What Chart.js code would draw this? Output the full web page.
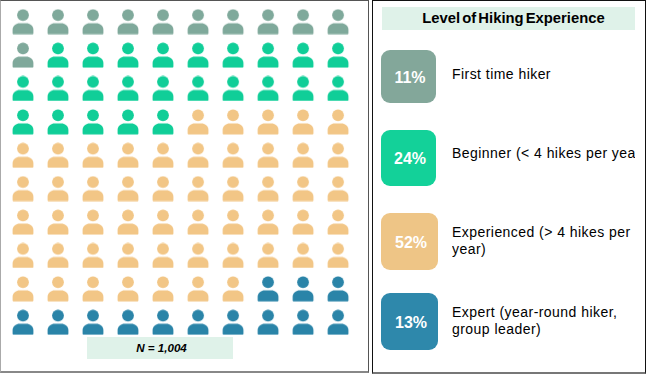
<!DOCTYPE html>
<html>
<head>
<meta charset="utf-8">
<script src="https://cdn.jsdelivr.net/npm/chart.js@4"></script>
<style>
  html, body { margin: 0; padding: 0; background: #fff; }
  body { width: 648px; height: 376px; position: relative; overflow: hidden; font-family: "Liberation Sans", Arial, sans-serif; color: #000; }
  #panelIconos { position: absolute; left: 0; top: 0; width: 367px; height: 370px; border: 1px solid #555; border-bottom: 2px solid #888; border-left-color: #aaa; }
  #chartIconos { position: absolute; left: 0; top: 0; }
  #etiquetaN { position: absolute; left: 87px; top: 337px; width: 146px; height: 22px; line-height: 21px; background: #dff2e9; text-align: center; font-size: 11.6px; font-weight: bold; font-style: italic; padding-left: 3px; box-sizing: border-box; }
  #panelLeyenda { position: absolute; left: 372px; top: 0; width: 272px; height: 371px; border: 1px solid #111; border-bottom: 2px solid #777; }
  #tituloLeyenda { position: absolute; left: 382px; top: 7px; width: 253px; height: 23px; line-height: 23px; background: #dff2e9; text-align: center; font-size: 14.8px; font-weight: bold; word-spacing: -2px; padding-left: 10px; box-sizing: border-box; }
  .caja { position: absolute; left: 381px; border-radius: 9px; color: #fff; text-align: center; font-size: 16px; font-weight: bold; padding-left: 3px; box-sizing: border-box; }
  .texto { position: absolute; left: 452px; width: 183px; overflow: hidden; font-size: 14px; line-height: 17px; letter-spacing: 0.45px; }
</style>
</head>
<body>
<div id="panelIconos"></div>
<canvas id="chartIconos" width="368" height="372"></canvas>
<div id="etiquetaN"></div>
<div id="panelLeyenda"></div>
<div id="tituloLeyenda"></div>
<div id="leyenda"></div>
<script>
const niveles = ['First time hiker', 'Beginner (< 4 hikes per year)', 'Experienced (> 4 hikes per year)', 'Expert (year-round hiker, group leader)'];
const porcentajes = [11, 24, 52, 13];
const colores = ['#7fa99b', '#10ce98', '#f2c686', '#2a84a8'];
const coloresCaja = ['#83a79a', '#13d199', '#eec586', '#2e88ab'];
const titulo = 'Level of Hiking Experience';
const muestra = 'N = 1,004';
const columnas = 10;

// Posicion de cada caja de la leyenda
const cajaTop = [50, 130, 213, 293];
const cajaAlto = [53, 56, 57, 57];
const cajaAncho = [55, 55, 57, 57];
const textoTop = [66, 145, 224, 304];
const textoSalto = ['normal', 'nowrap', 'normal', 'normal'];

function crearIcono(color) {
    const c = document.createElement('canvas');
    c.width = 24;
    c.height = 26;
    const ctx = c.getContext('2d');
    ctx.fillStyle = color;
    ctx.beginPath();
    ctx.arc(12, 6.3, 5.9, 0, Math.PI * 2);
    ctx.fill();
    ctx.beginPath();
    ctx.moveTo(2.4, 25.4);
    ctx.quadraticCurveTo(1.6, 25.4, 1.6, 24.4);
    ctx.lineTo(1.6, 21);
    ctx.bezierCurveTo(1.6, 17, 5.5, 14.6, 8.5, 14.6);
    ctx.lineTo(15.5, 14.6);
    ctx.bezierCurveTo(18.5, 14.6, 22.4, 17, 22.4, 21);
    ctx.lineTo(22.4, 24.4);
    ctx.quadraticCurveTo(22.4, 25.4, 21.6, 25.4);
    ctx.closePath();
    ctx.fill();
    return c;
}

// Un punto por persona, llenando filas de izquierda a derecha
let indice = 0;
const datasets = niveles.map((nivel, i) => {
    const puntos = [];
    for (let n = 0; n < porcentajes[i]; n++) {
        puntos.push({ x: indice % columnas, y: Math.floor(indice / columnas) });
        indice++;
    }
    return {
        label: nivel,
        data: puntos,
        pointStyle: crearIcono(colores[i]),
        pointRadius: 12,
        pointHoverRadius: 12
    };
});

new Chart(document.getElementById('chartIconos'), {
    type: 'scatter',
    data: { datasets: datasets },
    options: {
        responsive: false,
        animation: false,
        layout: { padding: 0, autoPadding: false },
        plugins: { legend: { display: false }, tooltip: { enabled: false } },
        scales: {
            x: { display: false, min: -0.657, max: 9.857 },
            y: { display: false, reverse: true, min: -0.65, max: 10.49 }
        }
    }
});

document.getElementById('etiquetaN').textContent = muestra;
document.getElementById('tituloLeyenda').textContent = titulo;
document.getElementById('leyenda').innerHTML = niveles.map((nivel, i) => `
    <div class="caja" style="top:${cajaTop[i]}px;height:${cajaAlto[i]}px;width:${cajaAncho[i]}px;line-height:${cajaAlto[i] + 2}px;background:${coloresCaja[i]}">${porcentajes[i]}%</div>
    <div class="texto" style="top:${textoTop[i]}px;white-space:${textoSalto[i]}">${nivel.replace('<', '&lt;')}</div>
`).join('');
</script>
</body>
</html>
